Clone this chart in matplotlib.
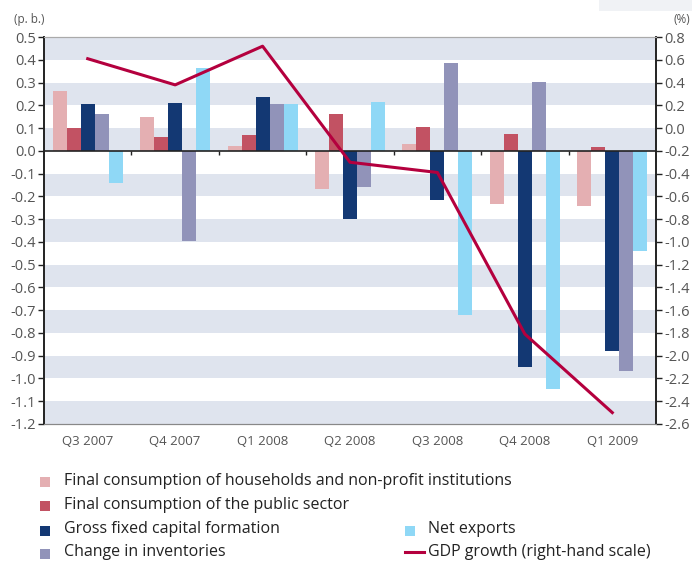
import matplotlib.pyplot as plt
import matplotlib.patches as mpatches
import numpy as np

plt.rcParams["font.family"] = ["Open Sans", "DejaVu Sans"]

quarters = ["Q3 2007", "Q4 2007", "Q1 2008", "Q2 2008", "Q3 2008", "Q4 2008", "Q1 2009"]
households = [0.265, 0.15, 0.02, -0.168, 0.03, -0.233, -0.242]
public = [0.10, 0.063, 0.068, 0.16, 0.105, 0.074, 0.017]
gfcf = [0.205, 0.21, 0.235, -0.30, -0.216, -0.948, -0.878]
inventories = [0.16, -0.395, 0.205, -0.16, 0.386, 0.302, -0.967]
net_exports = [-0.14, 0.365, 0.205, 0.215, -0.72, -1.047, -0.439]
gdp = [0.61, 0.38, 0.72, -0.30, -0.39, -1.81, -2.50]

series = [
    ("Final consumption of households and non-profit institutions", households, "#e4afb2"),
    ("Final consumption of the public sector", public, "#c25263"),
    ("Gross fixed capital formation", gfcf, "#133873"),
    ("Change in inventories", inventories, "#9193b9"),
    ("Net exports", net_exports, "#8fd8f6"),
]
line_color = "#b4003e"
text_color = "#555555"

fig = plt.figure(figsize=(6.92, 5.62), dpi=100)
ax = fig.add_axes([0.0636, 0.2456, 0.8844, 0.6884])
ax2 = ax.twinx()

# background bands
for lo in np.arange(-1.2, 0.5, 0.2):
    ax.axhspan(lo, lo + 0.1, color="#dfe4ee", lw=0, zorder=0)
ax.axhspan(0.4, 0.5, color="#dfe4ee", lw=0, zorder=0)

x = np.arange(len(quarters))
w = 0.16
for i, (label, vals, color) in enumerate(series):
    ax.bar(x + (i - 2) * w, vals, width=w, color=color, zorder=2)

ax.axhline(0, color="#222222", lw=1.2, zorder=3)
ax.vlines(np.arange(1, len(quarters)) - 0.5, -0.02, 0, color="#222222", lw=1, zorder=3)

ax.set_xlim(-0.5, len(quarters) - 0.5)
ax.set_ylim(-1.2, 0.5)
ax.set_yticks(np.round(np.arange(-1.2, 0.51, 0.1), 1))
ax.set_yticklabels([f"{v:.1f}" for v in np.round(np.arange(-1.2, 0.51, 0.1), 1)])
ax.set_xticks(x)
ax.set_xticklabels(quarters)
ax.tick_params(axis="x", length=0, pad=8, labelsize=9.5, colors=text_color)
ax.tick_params(axis="y", length=4, width=1, labelsize=10.5, colors="#222222", labelcolor=text_color, pad=2)

ax2.plot(x, gdp, color=line_color, lw=2.2, zorder=4)
ax2.set_ylim(-2.6, 0.8)
ax2.set_yticks(np.round(np.arange(-2.6, 0.81, 0.2), 1))
ax2.set_yticklabels([f"{v:.1f}" for v in np.round(np.arange(-2.6, 0.81, 0.2), 1)])
ax2.tick_params(axis="y", length=4, width=1, labelsize=10.5, colors="#222222", labelcolor=text_color, pad=2)

for a in (ax, ax2):
    a.spines["top"].set_color("#aaaaaa")
    a.spines["bottom"].set_color("#888888")
    a.spines["left"].set_color("#222222")
    a.spines["right"].set_color("#222222")
    a.spines["left"].set_linewidth(1.2)
    a.spines["right"].set_linewidth(1.2)

fig.text(0.02, 0.965, "(p. b.)", fontsize=8.5, color=text_color, va="center", ha="left")
fig.text(0.998, 0.965, "(%)", fontsize=8.5, color=text_color, va="center", ha="right")
fig.patches.append(mpatches.Rectangle((0.866, 0.981), 0.134, 0.019, transform=fig.transFigure,
                                      color="#f0f2f5", lw=0))

# legend
rows = [0.144, 0.101, 0.058, 0.017]
positions = [(0.058, rows[0]), (0.058, rows[1]), (0.058, rows[2]), (0.058, rows[3]), (0.585, rows[2])]
for (label, vals, color), (lx, ly) in zip(series, positions):
    fig.patches.append(mpatches.Rectangle((lx, ly - 0.011), 0.0145, 0.0178, transform=fig.transFigure,
                                          color=color, lw=0))
    fig.text(lx + 0.034, ly, label, fontsize=11.5, color="#222222", va="center", ha="left")
fig.lines.append(plt.Line2D([0.585, 0.612], [rows[3], rows[3]], transform=fig.transFigure,
                            color=line_color, lw=2.2))
fig.text(0.619, rows[3], "GDP growth (right-hand scale)", fontsize=11.5, color="#222222",
         va="center", ha="left")

fig.savefig("out.png", dpi=100)
